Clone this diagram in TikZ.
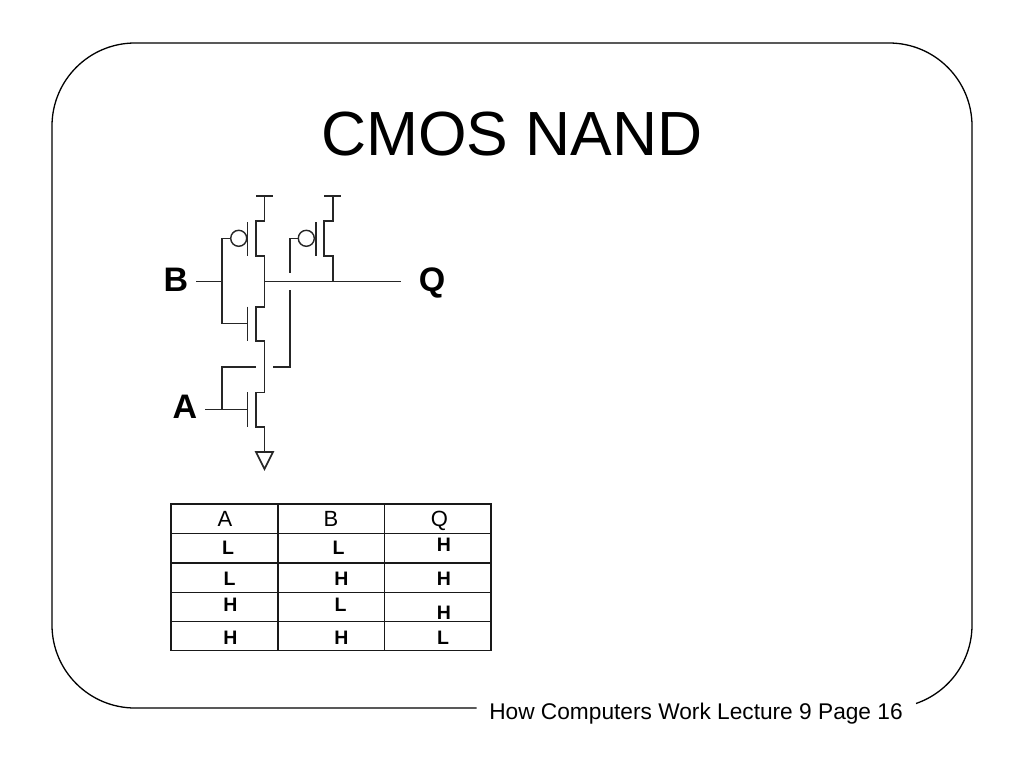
\documentclass[tikz,border=0pt]{standalone}
\usepackage{fontspec}
\setmainfont{Liberation Sans}
\begin{document}
\begin{tikzpicture}[x=1pt,y=-1pt,
  wire/.style={line width=1.6pt,draw=black!85,line join=miter},
  framel/.style={line width=1.3pt,draw=black},
  gridl/.style={line width=1.5pt,draw=black!90},
  bubble/.style={circle,draw=black!85,line width=1.4pt,minimum size=16pt,inner sep=0pt},
  hdr/.style={inner sep=0pt,anchor=base,font=\fontsize{22}{22}\selectfont},
  val/.style={inner sep=0pt,anchor=base,font=\fontsize{19.5}{19.5}\bfseries\selectfont},
  pin/.style={inner sep=0pt,anchor=base,font=\fontsize{34}{34}\bfseries\selectfont}]
\useasboundingbox (0,0) rectangle (1024,768);
\fill[white] (0,0) rectangle (1024,768);
% frame
\draw[framel] (476.7,708) -- (135,708) arc[start angle=90,end angle=180,radius=83]
  -- (52,126) arc[start angle=180,end angle=270,radius=83]
  -- (889,43) arc[start angle=270,end angle=360,radius=83]
  -- (972,625) arc[start angle=0,end angle=71,radius=83];
% texts
\node[inner sep=0pt,anchor=base,font=\fontsize{62.4}{62.4}\selectfont] (title) at (512,155) {CMOS NAND};
\node[inner sep=0pt,anchor=base,font=\fontsize{22.7}{22.7}\selectfont] (foot) at (696,719) {How Computers Work Lecture 9 Page 16};
\node[pin] (lb) at (176,291) {B};
\node[pin] (lq) at (432,291) {Q};
\node[pin] (la) at (185,418) {A};
% named circuit points
\coordinate (bw) at (196,281.3);
\coordinate (qe) at (400.7,281.3);
\coordinate (aw) at (205,409.3);
\coordinate (nb) at (264.3,281.3);
\coordinate (nq) at (332.7,281.3);
\coordinate (nB) at (221.7,281.3);
\node[bubble] (b1) at (238.7,238.3) {};
\node[bubble] (b2) at (306.3,238.3) {};
% left series stack
\draw[wire] (256,196) -- (272.7,196);
\draw[wire] (264.3,196) -- (264.3,221) -- (256,221) -- (256,255.7) -- (264.3,255.7) -- (264.3,306.7) -- (256,306.7) -- (256,341) -- (264.3,341) -- (264.3,392.3) -- (256,392.3) -- (256,426.7) -- (264.3,426.7) -- (264.3,452);
\draw[wire] (256,452) -- (273,452) -- (264.5,469) -- cycle;
% right pfet
\draw[wire] (324.3,196) -- (341,196);
\draw[wire] (332.7,196) -- (332.7,221) -- (324,221) -- (324,255.7) -- (332.7,255.7) -- (nq);
% gate bars
\draw[wire] (247.3,222) -- (247.3,256);
\draw[wire] (315.7,222) -- (315.7,256);
\draw[wire] (247.3,306.7) -- (247.3,341);
\draw[wire] (247.3,392.3) -- (247.3,426.7);
% horizontal wires
\draw[wire] (bw) -- (nB);
\draw[wire] (nb) -- (qe);
\draw[wire] (b1.west) -- (221.7,238.3) -- (221.7,323.3) -- (247.3,323.3);
\draw[wire] (b2.west) -- (290,238.3) -- (290,272.7);
\draw[wire] (290,290.3) -- (290,366.7) -- (273.3,366.7);
\draw[wire] (255.7,366.7) -- (221.7,366.7) -- (221.7,409.3);
\draw[wire] (aw) -- (247.3,409.3);
% table
\draw[gridl] (171,504) rectangle (491,650.7);
\foreach \yy in {533.3,563,592.3,621.7} \draw[gridl] (171,\yy) -- (491,\yy);
\foreach \xx in {278,384.3} \draw[gridl] (\xx,504) -- (\xx,650.7);
\node[hdr] (ta) at (225,526.5) {A};
\node[hdr] (tb) at (331,526.5) {B};
\node[hdr] (tq) at (439.5,526.5) {Q};
\node[val] (r1a) at (228,554) {L};
\node[val] (r1b) at (338.5,554) {L};
\node[val] (r1q) at (444,551) {H};
\node[val] (r2a) at (229.5,585) {L};
\node[val] (r2b) at (341.5,585) {H};
\node[val] (r2q) at (444,585) {H};
\node[val] (r3a) at (230.5,611) {H};
\node[val] (r3b) at (340.5,611) {L};
\node[val] (r3q) at (444,619) {H};
\node[val] (r4a) at (230.5,644) {H};
\node[val] (r4b) at (341.5,644) {H};
\node[val] (r4q) at (443,644) {L};
\end{tikzpicture}
\end{document}
